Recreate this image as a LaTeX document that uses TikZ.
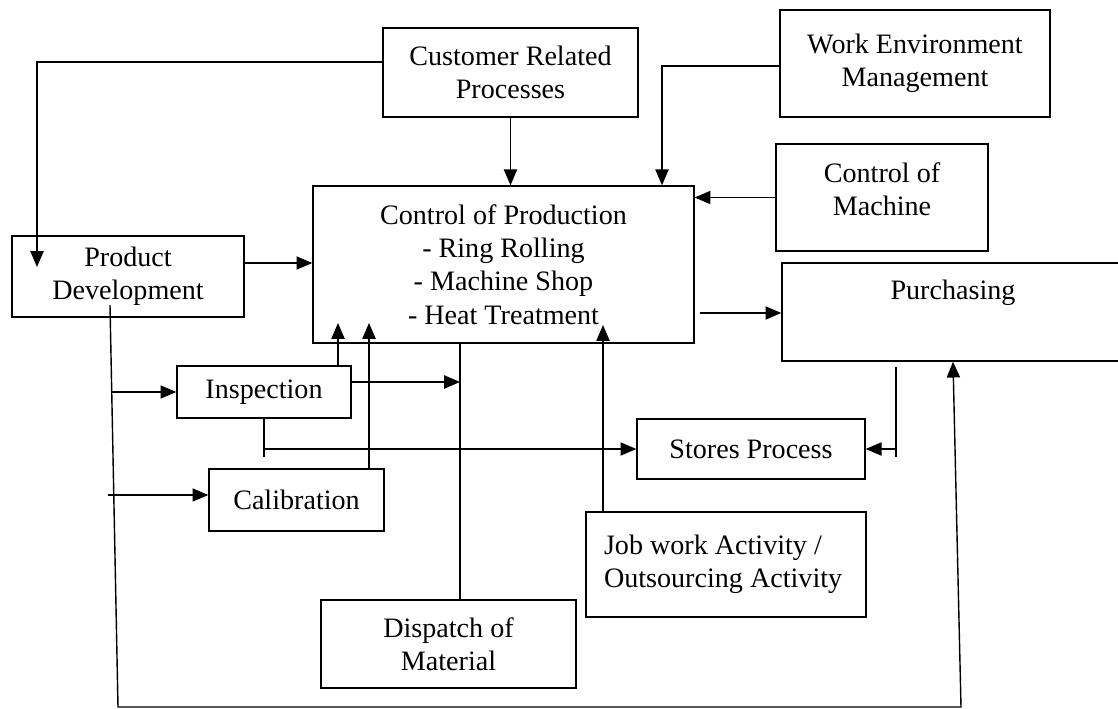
\documentclass[tikz,border=0pt]{standalone}
\usepackage{fontspec}
\setmainfont{Liberation Serif}
\usetikzlibrary{arrows.meta,calc,positioning}

\begin{document}
\begin{tikzpicture}[x=0.02cm,y=-0.02cm,>={Triangle[length=9pt,width=7.5pt]},line width=0.8pt,font=\fontsize{16}{19}\selectfont,
box/.style = {draw, rectangle, align=center, inner sep=2pt},]
\useasboundingbox (0,0) rectangle (1118,709);
\node (cust) at (510.5,72.5)[box,minimum width=5.1cm,minimum height=1.78cm] {Customer Related\\Processes};
\node (work) at (915,63.5)[box,minimum width=5.4cm,minimum height=2.14cm] {Work Environment\\Management};
\node (mach) at (882,197.5)[box,minimum width=4.24cm,minimum height=2.14cm,label={[align=center,yshift=0.16cm]center:Control of\\Machine}] {};
\node (cp) at (503.5,264.5)[box,minimum width=7.62cm,minimum height=3.14cm] {Control of Production\\- Ring Rolling\\- Machine Shop\\- Heat Treatment};
\node (pd) at (128,276.5)[box,minimum width=4.64cm,minimum height=1.62cm] {Product\\Development};
\node (purch) at (953,312)[box,minimum width=6.84cm,minimum height=1.96cm,label={[yshift=0.38cm]center:Purchasing}] {};
\node (insp) at (264,392)[box,minimum width=3.48cm,minimum height=1.04cm] {Inspection};
\node (stores) at (751,449)[box,minimum width=4.56cm,minimum height=1.2cm] {Stores Process};
\node (calib) at (296.5,500)[box,minimum width=3.5cm,minimum height=1.24cm] {Calibration};
\node (job) at (726,564.5)[box,minimum width=5.6cm,minimum height=2.1cm,text width=4.88cm,inner xsep=0.36cm,align=flush left] {Job work Activity /\\Outsourcing Activity};
\node (disp) at (448.5,644)[box,minimum width=5.1cm,minimum height=1.76cm] {Dispatch of\\Material};
\coordinate (pdin) at (37,267);
\coordinate (insptip) at (338,323);
\coordinate (calibtip) at (369,323);
\coordinate (jobtip) at (603,325);
\coordinate (cpout) at (700,313);
\coordinate (tap) at (460,382);
\coordinate (pdout) at (110,305);
\coordinate (pdlow) at (118,707);
\coordinate (purchlow) at (961,707);
\coordinate (sp) at (896,367);
\coordinate (inspin) at (112,392);
\coordinate (calibin) at (108,495);
\draw[->] (cust.west |- 0,62) -| (pdin);
\draw[->] (cust.south) -- (cust.south |- cp.north);
\draw[->] (work.west |- 0,66) -| (cp.north -| 662,0);
\draw[->] (mach.west) -- (cp.east |- mach.west);
\draw[->] (pd.east |- 0,263) -- (cp.west |- 0,263);
\draw[->] (cpout) -- (purch.west |- cpout);
\draw[->] (insp.north -| insptip) -- (insptip);
\draw[->] (calib.north -| calibtip) -- (calibtip);
\draw[->] (job.north -| jobtip) -- (jobtip);
\draw[->] (insp.east |- tap) -- (tap);
\draw (cp.south -| tap) -- (disp.north -| tap);
\draw (insp.south) -- (insp.south |- 0,457);
\draw[->] (insp.south |- stores.west) -- (stores.west);
\draw (sp) -- ++(0,90);
\draw[->] (stores.east -| sp) -- (stores.east);
\draw[->] (pdout) -- (pdlow) -- (purchlow) -- (purch.south -| 953,0);
\draw[->] (inspin) -- (insp.west);
\draw[->] (calibin) -- (calib.west |- calibin);
\end{tikzpicture}
\end{document}
